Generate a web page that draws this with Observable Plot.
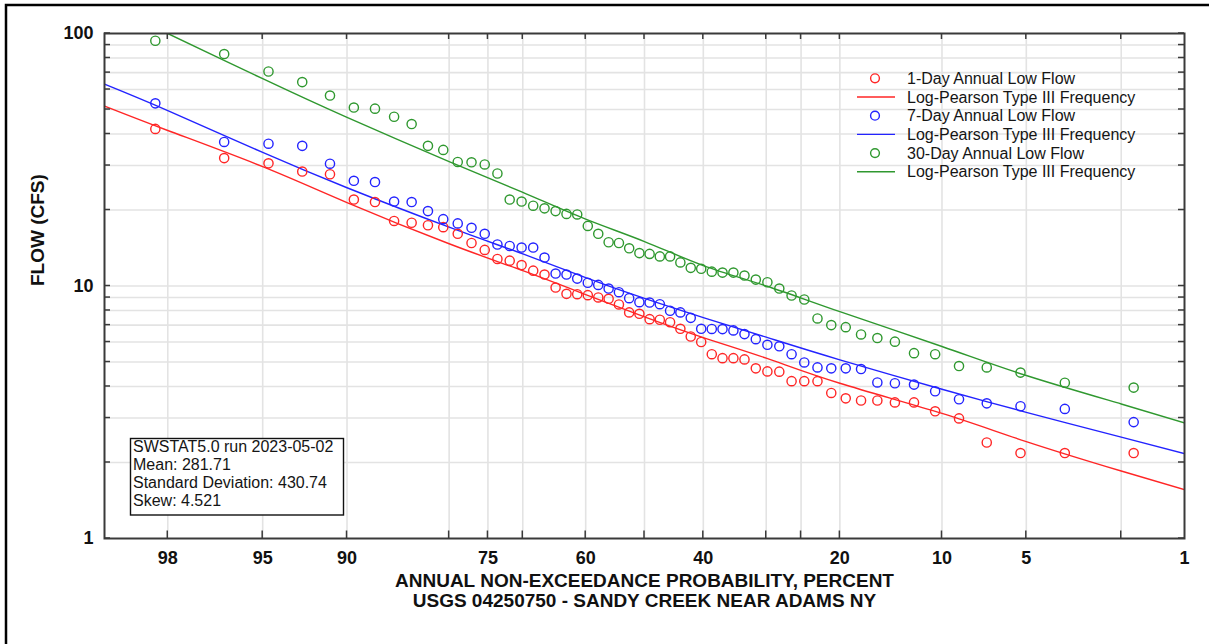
<!DOCTYPE html>
<html>
<head>
<meta charset="utf-8">
<script src="https://cdn.jsdelivr.net/npm/d3@7"></script>
<script src="https://cdn.jsdelivr.net/npm/@observablehq/plot@0.6"></script>
<style>
  body { margin: 0; background: #fff; }
  #chart { width: 1209px; height: 644px; }
  #chart svg { display: block; }
</style>
</head>
<body>
<div id="chart"></div>
<script>
// ---------------- DATA ----------------
// Annual low flows (CFS), sorted from largest to smallest (56 years)
const seriesNames = ["1-Day Annual Low Flow", "7-Day Annual Low Flow", "30-Day Annual Low Flow"];
const seriesColors = ["#ff2626", "#2323ff", "#2f982f"];

const oneDay = [41.9, 32.1, 30.6, 28.4, 27.7, 22.0, 21.5, 18.1, 17.8, 17.4, 17.1, 16.1, 14.8, 13.9,
  12.8, 12.6, 12.1, 11.5, 11.1, 9.86, 9.31, 9.28, 9.20, 9.01, 8.90, 8.45, 7.86, 7.76, 7.39, 7.35,
  7.19, 6.77, 6.31, 6.00, 5.37, 5.18, 5.18, 5.12, 4.72, 4.59, 4.58, 4.20, 4.20, 4.20, 3.77, 3.59,
  3.52, 3.52, 3.46, 3.46, 3.19, 2.99, 2.40, 2.18, 2.18, 2.18];

const sevenDay = [52.9, 37.2, 36.6, 35.9, 30.5, 26.1, 25.8, 21.6, 21.5, 19.8, 18.4, 17.7, 17.0, 16.1,
  14.6, 14.4, 14.2, 14.2, 12.96, 11.2, 11.1, 10.7, 10.3, 10.1, 9.77, 9.45, 8.95, 8.63, 8.60, 8.47,
  7.98, 7.86, 7.48, 6.77, 6.76, 6.75, 6.67, 6.45, 6.16, 5.85, 5.77, 5.37, 4.98, 4.76, 4.72, 4.72,
  4.69, 4.15, 4.12, 4.07, 3.83, 3.56, 3.43, 3.34, 3.26, 2.89];

const thirtyDay = [93.6, 82.9, 70.7, 64.2, 56.8, 50.9, 50.4, 46.8, 43.8, 35.9, 34.6, 31.0, 30.9, 30.3,
  27.9, 22.0, 21.6, 20.8, 20.3, 19.8, 19.3, 19.2, 17.3, 16.1, 14.9, 14.8, 14.1, 13.5, 13.4, 13.1,
  13.1, 12.4, 11.8, 11.7, 11.4, 11.3, 11.3, 11.0, 10.6, 10.35, 9.77, 9.17, 8.84, 7.44, 7.00, 6.87,
  6.43, 6.22, 6.02, 5.42, 5.37, 4.82, 4.76, 4.54, 4.14, 3.96];

// Log-Pearson Type III frequency curves, read at these non-exceedance probabilities (percent)
const fitProbs     = [99, 98, 95, 90, 80, 70, 60, 50, 40, 30, 20, 10, 5, 2, 1];
const oneDayFit    = [51.6, 41.3, 29.7, 21.4, 14.7, 11.5, 9.25, 7.55, 6.25, 5.18, 4.12, 3.13, 2.42, 1.85, 1.56];
const sevenDayFit  = [63.0, 49.5, 33.8, 24.5, 17.1, 13.4, 10.8, 8.93, 7.50, 6.27, 5.10, 3.90, 3.16, 2.52, 2.17];
const thirtyDayFit = [132, 100, 66.2, 46.5, 31.1, 23.5, 18.4, 15.0, 12.05, 10.0, 7.91, 5.76, 4.42, 3.41, 2.87];

// Axis ticks
const xTickProbs  = [98, 95, 90, 80, 75, 70, 60, 50, 40, 30, 25, 20, 10, 5, 2];
const xLabelProbs = [98, 95, 90, 75, 60, 40, 20, 10, 5, 1];
const yTicks      = [1, 2, 3, 4, 5, 6, 7, 8, 9, 10, 20, 30, 40, 50, 60, 70, 80, 90, 100];
const yGridTicks  = [2, 3, 4, 5, 6, 7, 8, 9, 10, 20, 30, 40, 50, 60, 70, 80, 90];
const yLabelTicks = [1, 10, 100];

const statLines = ["SWSTAT5.0 run 2023-05-02", "Mean: 281.71", "Standard Deviation: 430.74", "Skew: 4.521"];
const legendItems = [
  {label: "1-Day Annual Low Flow", series: 0, kind: "dot"},
  {label: "Log-Pearson Type III Frequency", series: 0, kind: "line"},
  {label: "7-Day Annual Low Flow", series: 1, kind: "dot"},
  {label: "Log-Pearson Type III Frequency", series: 1, kind: "line"},
  {label: "30-Day Annual Low Flow", series: 2, kind: "dot"},
  {label: "Log-Pearson Type III Frequency", series: 2, kind: "line"}
];
const xTitle = ["ANNUAL NON-EXCEEDANCE PROBABILITY, PERCENT", "USGS 04250750 - SANDY CREEK NEAR ADAMS NY"];
const yTitle = "FLOW (CFS)";

// ---------------- helpers ----------------
// Inverse standard normal CDF (Acklam) -> normal probability paper
function qnorm(p) {
  const a = [-3.969683028665376e+01, 2.209460984245205e+02, -2.759285104469687e+02, 1.383577518672690e+02, -3.066479806614716e+01, 2.506628277459239e+00];
  const b = [-5.447609879822406e+01, 1.615858368580409e+02, -1.556989798598866e+02, 6.680131188771972e+01, -1.328068155288572e+01];
  const c = [-7.784894002430293e-03, -3.223964580411365e-01, -2.400758277161838e+00, -2.549732539343734e+00, 4.374664141464968e+00, 2.938163982698783e+00];
  const d = [7.784695709041462e-03, 3.224671290700398e-01, 2.445134137142996e+00, 3.754408661907416e+00];
  const pl = 0.02425, ph = 1 - pl;
  let q, r;
  if (p < pl) {
    q = Math.sqrt(-2 * Math.log(p));
    return (((((c[0]*q+c[1])*q+c[2])*q+c[3])*q+c[4])*q+c[5]) / ((((d[0]*q+d[1])*q+d[2])*q+d[3])*q+1);
  }
  if (p > ph) {
    q = Math.sqrt(-2 * Math.log(1 - p));
    return -(((((c[0]*q+c[1])*q+c[2])*q+c[3])*q+c[4])*q+c[5]) / ((((d[0]*q+d[1])*q+d[2])*q+d[3])*q+1);
  }
  q = p - 0.5; r = q * q;
  return (((((a[0]*r+a[1])*r+a[2])*r+a[3])*r+a[4])*r+a[5])*q / (((((b[0]*r+b[1])*r+b[2])*r+b[3])*r+b[4])*r+1);
}
const zOf = (pct) => qnorm(pct / 100);

// Weibull plotting position: rank i (1 = smallest) -> i/(n+1)
const observed = [oneDay, sevenDay, thirtyDay];
const points = observed.flatMap((arr, s) => {
  const n = arr.length;
  return arr.map((v, k) => ({series: seriesNames[s], z: qnorm((n - k) / (n + 1)), v}));
});
const fits = [oneDayFit, sevenDayFit, thirtyDayFit];
const fitRows = fits.flatMap((arr, s) => arr.map((v, k) => ({series: seriesNames[s], z: zOf(fitProbs[k]), v})));

const labelByZ = new Map(xLabelProbs.map(p => [zOf(p), String(p)]));
const FONT = '"Liberation Sans", Arial, Helvetica, sans-serif';

const chart = Plot.plot({
  width: 1209,
  height: 644,
  marginLeft: 104,
  marginRight: 25,
  marginTop: 33,
  marginBottom: 106,
  style: {fontFamily: FONT, background: "#fff", color: "#111"},
  x: {type: "linear", domain: [zOf(99), zOf(1)]},
  y: {type: "log", domain: [1, 100]},
  color: {domain: seriesNames, range: seriesColors},
  marks: [
    Plot.gridX(xTickProbs.map(zOf), {stroke: "#e3e3e3", strokeOpacity: 1, strokeWidth: 1.6}),
    Plot.gridY(yGridTicks, {stroke: "#e3e3e3", strokeOpacity: 1, strokeWidth: 1.6}),
    Plot.axisX(xLabelProbs.map(zOf), {tickSize: 0, tickPadding: 13, tickFormat: z => labelByZ.get(z),
      fontSize: 18, fontWeight: "bold", label: null, color: "#111"}),
    Plot.axisY(yLabelTicks, {tickSize: 0, tickPadding: 11, tickFormat: d => String(d),
      fontSize: 18, fontWeight: "bold", label: null, color: "#111"}),
    Plot.line(fitRows, {x: "z", y: "v", z: "series", stroke: "series", strokeWidth: 1.4, curve: "natural", clip: true}),
    Plot.dot(points, {x: "z", y: "v", stroke: "series", r: 4.6, strokeWidth: 1.4, fill: "none"}),
    Plot.frame({stroke: "#3a3a3a", strokeWidth: 2}),
    Plot.text([yTitle], {text: d => d, frameAnchor: "left", dx: -67, rotate: -90, fontSize: 19, fontWeight: "bold", fill: "#111"}),
    Plot.text([xTitle[0]], {text: d => d, frameAnchor: "bottom", dy: 48.5, fontSize: 19, fontWeight: "bold", fill: "#111"}),
    Plot.text([xTitle[1]], {text: d => d, frameAnchor: "bottom", dy: 68.5, fontSize: 19, fontWeight: "bold", fill: "#111"})
  ]
});

document.getElementById("chart").appendChild(chart);

// ---------------- inward tick marks, legend, stats box, border ----------------
const svg = d3.select(chart);
const xs = chart.scale("x"), ys = chart.scale("y");
const [xL, xR] = xs.range;
const yB = ys.apply(1), yT = ys.apply(100);

const tg = svg.append("g").attr("stroke", "#3a3a3a").attr("stroke-width", 1.5);
for (const p of xTickProbs) {
  const px = xs.apply(zOf(p));
  tg.append("line").attr("x1", px).attr("x2", px).attr("y1", yB).attr("y2", yB - 7.5);
  tg.append("line").attr("x1", px).attr("x2", px).attr("y1", yT).attr("y2", yT + 6);
}
for (const v of yTicks) {
  const py = ys.apply(v);
  tg.append("line").attr("x1", xL).attr("x2", xL + 6).attr("y1", py).attr("y2", py);
  tg.append("line").attr("x1", xR).attr("x2", xR - 6).attr("y1", py).attr("y2", py);
}

// Legend
const lg = svg.append("g").attr("font-family", FONT).attr("font-size", 16)
  .attr("fill", "#151515").attr("text-anchor", "start");
legendItems.forEach((it, k) => {
  const cy = 78.3 + k * 18.7;
  const col = seriesColors[it.series];
  if (it.kind === "dot") {
    lg.append("circle").attr("cx", 875).attr("cy", cy).attr("r", 4.4)
      .attr("fill", "none").attr("stroke", col).attr("stroke-width", 1.4);
  } else {
    lg.append("line").attr("x1", 857).attr("x2", 895).attr("y1", cy).attr("y2", cy)
      .attr("stroke", col).attr("stroke-width", 1.4);
  }
  lg.append("text").attr("x", 907).attr("y", cy).attr("dy", "0.35em").attr("text-anchor", "start").text(it.label);
});

// Stats box
const sg = svg.append("g").attr("font-family", FONT).attr("font-size", 16)
  .attr("fill", "#151515").attr("text-anchor", "start");
sg.append("rect").attr("x", 130.5).attr("y", 438.5).attr("width", 213).attr("height", 76.5)
  .attr("fill", "#fff").attr("stroke", "#111").attr("stroke-width", 1.4);
statLines.forEach((t, k) => {
  sg.append("text").attr("x", 133).attr("y", 446.8 + k * 18).attr("dy", "0.35em").attr("text-anchor", "start").text(t);
});

// Outer border (left and top edges visible)
svg.append("path").attr("d", "M6,644V5H1209").attr("fill", "none").attr("stroke", "#000").attr("stroke-width", 2.5);
</script>
</body>
</html>
